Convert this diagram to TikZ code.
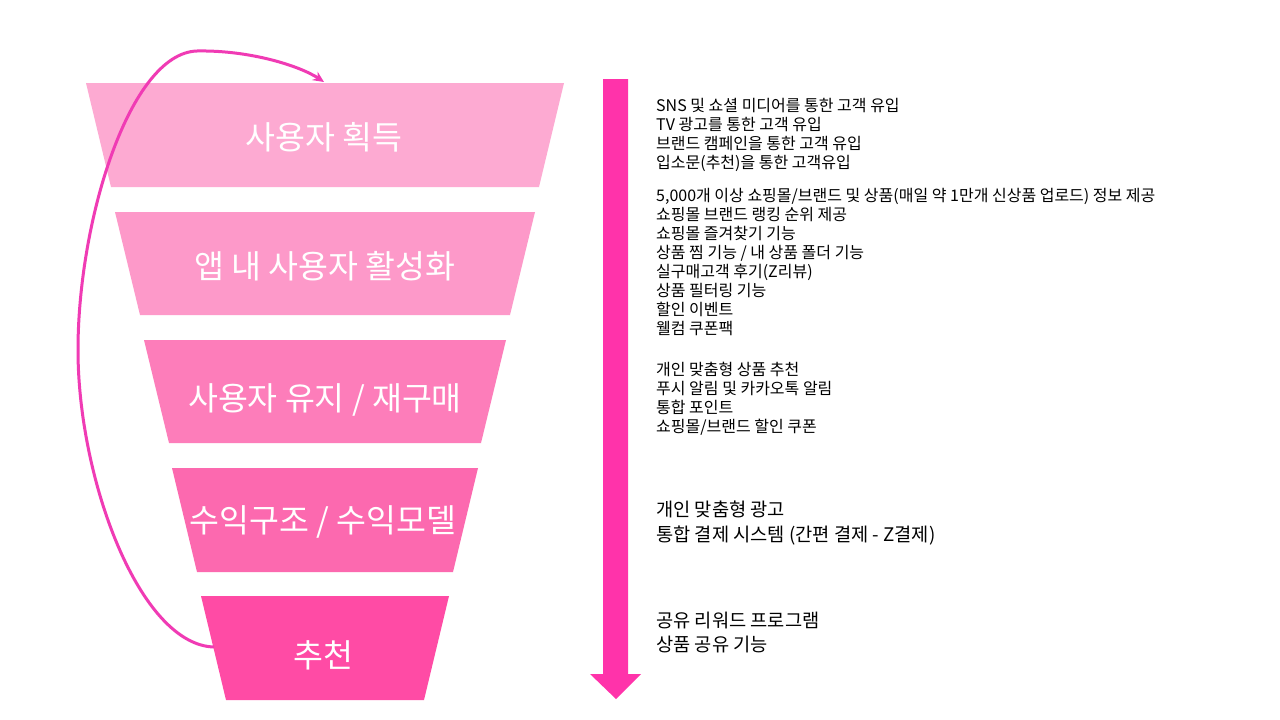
\documentclass[tikz,border=0pt]{standalone}
\usepackage{fontspec}
\setmainfont{Noto Sans CJK KR}
\usetikzlibrary{arrows.meta}
\definecolor{fa}{HTML}{FDAAD2}
\definecolor{fb}{HTML}{FD99C9}
\definecolor{fc}{HTML}{FD7DBA}
\definecolor{fd}{HTML}{FC69AF}
\definecolor{fe}{HTML}{FF4BA5}
\definecolor{arrowpink}{HTML}{FF33AA}
\definecolor{curvepink}{HTML}{F03BB4}
\tikzset{
  funlabel/.style={text=white, font=\fontsize{32.5}{36}\selectfont, inner sep=0pt},
  small/.style={anchor=base west, inner sep=0pt, font=\fontsize{16}{19}\selectfont},
  mid/.style={anchor=base west, inner sep=0pt, font=\fontsize{18.7}{22}\selectfont},
}
\begin{document}
\begin{tikzpicture}[x=1pt,y=-1pt]
\useasboundingbox (0,0) rectangle (1280,720);
\fill[white] (0,0) rectangle (1280,720);
% funnel
\fill[fa] (86,83) -- (564,83) -- (539,187) -- (111,187) -- cycle;
\fill[fb] (115,212) -- (535,212) -- (510,315) -- (140,315) -- cycle;
\fill[fc] (144,340) -- (506,340) -- (481,443) -- (169,443) -- cycle;
\fill[fd] (172,468) -- (478,468) -- (453,572) -- (197,572) -- cycle;
\fill[fe] (201,596) -- (449,596) -- (424,700) -- (226,700) -- cycle;
\node[funlabel] (t1) at (324,137) {사용자 획득};
\node[funlabel] (t2) at (325,266) {앱 내 사용자 활성화};
\node[funlabel] (t3) at (325,400) {사용자 유지 / 재구매};
\node[funlabel] (t4) at (323,522) {수익구조 / 수익모델};
\node[funlabel] (t5) at (323,655) {추천};
% big down arrow
\fill[arrowpink] (603,79) -- (628,79) -- (628,674) -- (641,674) -- (616,699) -- (590,674) -- (603,674) -- cycle;
% loop arrow
\coordinate (c5) at (214,647);
\coordinate (cl) at (78,350);
\coordinate (ct) at (197,51);
\coordinate (c1) at (324,82);
\draw[curvepink, line width=3pt, -{Stealth[length=11pt,width=10pt]}]
  (c5) .. controls (140,645) and (78,480) .. (cl)
       .. controls (78,220) and (130,53) .. (ct)
       .. controls (250,50) and (300,66) .. (c1);
% right texts
\node[small] (a1) at (656,111) {SNS 및 쇼셜 미디어를 통한 고객 유입};
\node[small] (a2) at (656,130) {TV 광고를 통한 고객 유입};
\node[small] (a3) at (656,149) {브랜드 캠페인을 통한 고객 유입};
\node[small] (a4) at (656,168) {입소문(추천)을 통한 고객유입};
\node[small] (b1) at (656,201) {5,000개 이상 쇼핑몰/브랜드 및 상품(매일 약 1만개 신상품 업로드) 정보 제공};
\node[small] (b2) at (656,220) {쇼핑몰 브랜드 랭킹 순위 제공};
\node[small] (b3) at (656,239) {쇼핑몰 즐겨찾기 기능};
\node[small] (b4) at (656,258) {상품 찜 기능 / 내 상품 폴더 기능};
\node[small] (b5) at (656,277) {실구매고객 후기(Z리뷰)};
\node[small] (b6) at (656,296) {상품 필터링 기능};
\node[small] (b7) at (656,315) {할인 이벤트};
\node[small] (b8) at (656,334) {웰컴 쿠폰팩};
\node[small] (d1) at (656,375) {개인 맞춤형 상품 추천};
\node[small] (d2) at (656,394) {푸시 알림 및 카카오톡 알림};
\node[small] (d3) at (656,413) {통합 포인트};
\node[small] (d4) at (656,432) {쇼핑몰/브랜드 할인 쿠폰};
\node[mid] (e1) at (656,516) {개인 맞춤형 광고};
\node[mid] (e2) at (656,541) {통합 결제 시스템 (간편 결제 - Z결제)};
\node[mid] (f1) at (656,627) {공유 리워드 프로그램};
\node[mid] (f2) at (656,651) {상품 공유 기능};
\end{tikzpicture}
\end{document}
